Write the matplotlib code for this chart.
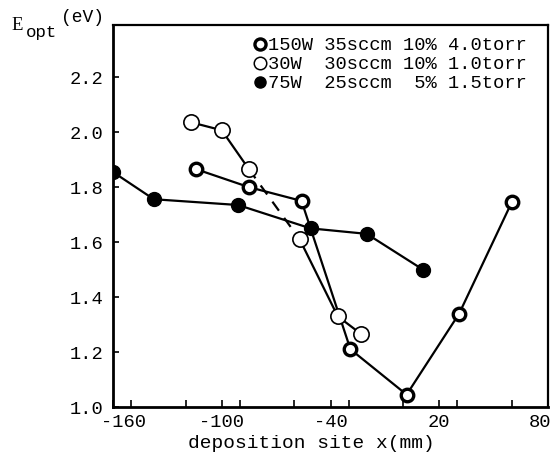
import matplotlib
matplotlib.use("Agg")
import matplotlib.pyplot as plt
import matplotlib.transforms as mtransforms
from matplotlib.lines import Line2D
from matplotlib.ticker import MultipleLocator, FixedLocator

# ---- data ----
x_150 = [-114, -85, -56, -29, 2, 31, 60]
y_150 = [1.865, 1.80, 1.75, 1.21, 1.045, 1.34, 1.745]

x_30 = [-117, -100, -85, -57, -36, -23]
y_30 = [2.036, 2.007, 1.865, 1.61, 1.33, 1.265]

x_75 = [-160, -137.5, -91, -51, -20, 11]
y_75 = [1.855, 1.756, 1.735, 1.65, 1.63, 1.50]

labels = ["150W 35sccm 10% 4.0torr",
          "30W  30sccm 10% 1.0torr",
          "75W  25sccm  5% 1.5torr"]
xticks = [-160, -100, -40, 20, 80]
yticks = [1.0, 1.2, 1.4, 1.6, 1.8, 2.0, 2.2]

FONT = "Liberation Mono"
plt.rcParams["font.family"] = [FONT, "DejaVu Sans"]

fig = plt.figure(figsize=(5.59, 4.61), dpi=100)
ax = fig.add_axes([113/559, 1-407/461, 435/559, 382/461])

lw = 1.6
# 150W series (bold open circles)
ax.plot(x_150, y_150, color="black", lw=lw, zorder=2)
ax.plot(x_150, y_150, ls="none", marker="o", ms=9, mfc="white", mec="black", mew=2.4, zorder=4)
# 30W series (thin open circles)
ax.plot(x_30[:3], y_30[:3], color="black", lw=lw, zorder=2)
ax.plot(x_30[2:4], y_30[2:4], color="black", lw=lw, ls=(0, (5, 4)), zorder=2)
ax.plot(x_30[3:], y_30[3:], color="black", lw=lw, zorder=2)
ax.plot(x_30, y_30, ls="none", marker="o", ms=11, mfc="white", mec="black", mew=1.2, zorder=4)
# 75W series (filled circles)
ax.plot(x_75, y_75, color="black", lw=lw, zorder=2)
ax.plot(x_75, y_75, ls="none", marker="o", ms=10, mfc="black", mec="black", zorder=4)

ax.set_xlim(-160, 80)
ax.set_ylim(1.0, 2.39)

ax.xaxis.set_major_locator(FixedLocator(xticks))
ax.xaxis.set_minor_locator(MultipleLocator(30))
ax.yaxis.set_major_locator(FixedLocator(yticks))
ax.set_xticklabels([str(v) for v in xticks])
ax.set_yticklabels([f"{v:.1f}" for v in yticks])
ax.tick_params(axis="both", which="both", direction="in", top=False, right=False,
               labelsize=13.5, width=1.2)
ax.tick_params(axis="x", which="both", length=5, pad=5)
ax.tick_params(axis="y", which="major", length=4, pad=7)

# small offsets of end labels as in the reference
shifts = {-160: 10, 80: -8}
for tick, val in zip(ax.xaxis.get_major_ticks(), xticks):
    if val in shifts:
        off = mtransforms.ScaledTranslation(shifts[val]/100, 0, fig.dpi_scale_trans)
        tick.label1.set_transform(tick.label1.get_transform() + off)

for side in ["left", "bottom"]:
    ax.spines[side].set_linewidth(2.0)
for side in ["top", "right"]:
    ax.spines[side].set_linewidth(1.6)

ax.set_xlabel("deposition site x(mm)", fontsize=14, va="baseline")
ax.xaxis.set_label_coords((311-113)/435, (407-448)/382)

# y label: E_opt (eV)
fig.text(11/559, 1-30/461, "E", fontsize=13.5, family="Liberation Serif",
         ha="left", va="baseline")
fig.text(26/559, 1-37/461, "opt", fontsize=12.5, ha="left", va="baseline")
fig.text(61/559, 1-22/461, "(eV)", fontsize=13, ha="left", va="baseline")

handles = [
    Line2D([], [], ls="none", marker="o", ms=8, mfc="white", mec="black", mew=2.4),
    Line2D([], [], ls="none", marker="o", ms=9, mfc="white", mec="black", mew=1.1),
    Line2D([], [], ls="none", marker="o", ms=8, mfc="black", mec="black"),
]
leg = ax.legend(handles, labels, loc="upper right",
                bbox_to_anchor=((527-113)/435, (407-37)/382),
                frameon=False, handlelength=0.7, handletextpad=0.1,
                labelspacing=0.1, borderaxespad=0.0, borderpad=0.0,
                prop={"family": FONT, "size": 13.5})

fig.savefig("out.png", dpi=100)
